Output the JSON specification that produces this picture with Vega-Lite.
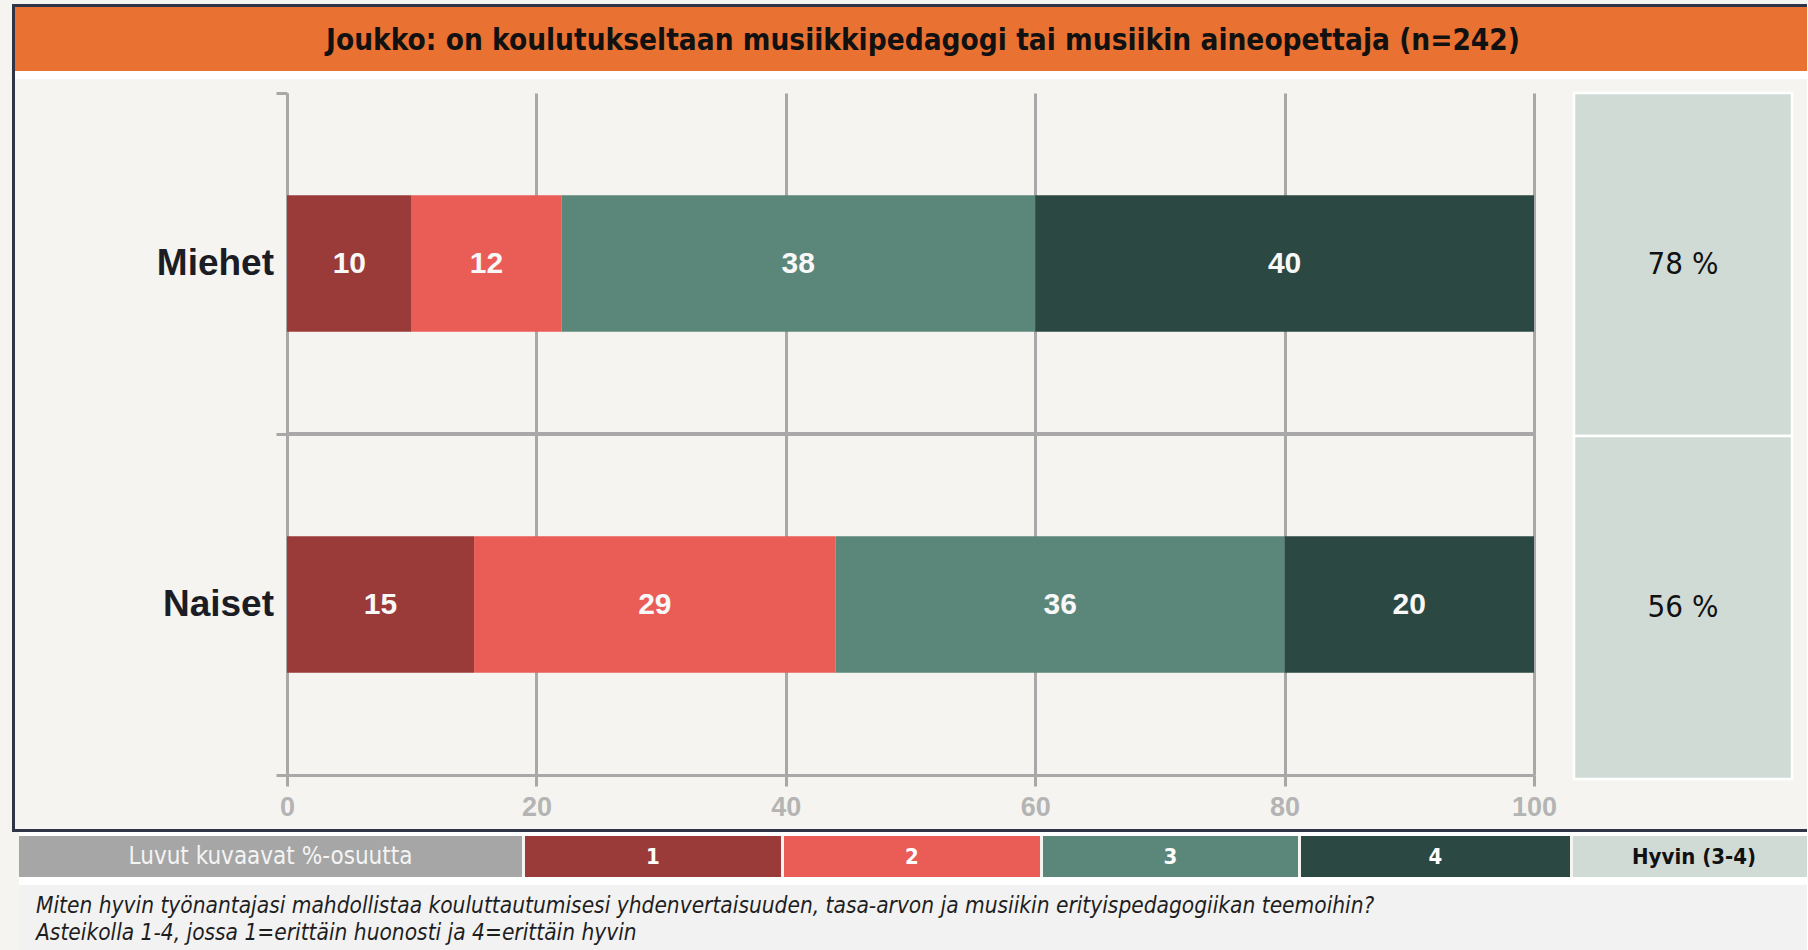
{
  "$schema": "https://vega.github.io/schema/vega-lite/v6.json",
  "background": "#f5f4f0",
  "padding": {"left": 12, "top": 4, "right": 0, "bottom": 0},
  "config": {"view": {"stroke": null}, "concat": {"spacing": 0}},
  "datasets": {
    "bars": [
      {"group": "Miehet", "cat": "1", "value": 10},
      {"group": "Miehet", "cat": "2", "value": 12},
      {"group": "Miehet", "cat": "3", "value": 38},
      {"group": "Miehet", "cat": "4", "value": 40},
      {"group": "Naiset", "cat": "1", "value": 15},
      {"group": "Naiset", "cat": "2", "value": 29},
      {"group": "Naiset", "cat": "3", "value": 36},
      {"group": "Naiset", "cat": "4", "value": 20}
    ],
    "hyvin": [
      {"group": "Miehet", "col": "Hyvin (3-4)", "label": "78 %"},
      {"group": "Naiset", "col": "Hyvin (3-4)", "label": "56 %"}
    ],
    "empty": []
  },
  "spacing": 0,
  "vconcat": [
    {
      "spacing": 0,
      "hconcat": [
        {"width": 3, "height": 828, "view": {"fill": "#2f3447"}, "data": {"name": "empty"}, "mark": "rule", "encoding": {}},
        {
          "spacing": 0,
          "vconcat": [
            {"width": 1792, "height": 3, "view": {"fill": "#2f3447"}, "data": {"name": "empty"}, "mark": "rule", "encoding": {}},
            {
              "width": 1792, "height": 64,
              "view": {"fill": "#e97132"},
              "data": {"values": [{"title": "Joukko: on koulutukseltaan musiikkipedagogi tai musiikin aineopettaja (n=242)"}]},
              "mark": {"type": "text", "font": "DejaVu Sans Condensed", "fontWeight": "bold", "fontSize": 29.5, "color": "#111111", "dx": 12, "dy": 2},
              "encoding": {"text": {"field": "title"}}
            },
            {"width": 1792, "height": 8, "view": {"fill": "#ffffff"}, "data": {"name": "empty"}, "mark": "rule", "encoding": {}},
            {
              "spacing": 0,
              "hconcat": [
                {"width": 141, "height": 750, "view": {"fill": "#f5f4f0"}, "data": {"name": "empty"}, "mark": "rule", "encoding": {}},
                {
                  "spacing": 0,
                  "vconcat": [
                    {"width": 1247, "height": 12, "view": {"fill": "#f5f4f0"}, "data": {"name": "empty"}, "mark": "rule", "encoding": {}},
                    {
                      "width": 1247, "height": 682,
                      "data": {"name": "bars"},
                      "encoding": {
                        "y": {
                          "field": "group", "type": "nominal", "title": null,
                          "scale": {"domain": ["Miehet", "Naiset"], "paddingInner": 0, "paddingOuter": 0},
                          "axis": {
                            "tickBand": "extent", "grid": false, "labels": false,
                            "domainColor": "#a8a8a8", "domainWidth": 3,
                            "tickColor": "#a8a8a8", "tickWidth": 3, "tickSize": 11
                          }
                        }
                      },
                      "layer": [
                        {
                          "mark": {"type": "rule", "color": "#a8a8a8", "strokeWidth": 3},
                          "encoding": {"y": {"datum": "Naiset", "type": "nominal", "bandPosition": 0}}
                        },
                        {
                          "mark": {"type": "bar", "height": {"band": 0.4}},
                          "encoding": {
                            "x": {
                              "field": "value", "type": "quantitative", "stack": "zero", "title": null,
                              "scale": {"domain": [0, 100], "nice": false},
                              "axis": {
                                "values": [0, 20, 40, 60, 80, 100], "grid": true,
                                "gridColor": "#a8a8a8", "gridWidth": 3,
                                "domainColor": "#a8a8a8", "domainWidth": 3,
                                "tickColor": "#a8a8a8", "tickWidth": 3, "tickSize": 11,
                                "labelFont": "Liberation Sans", "labelFontWeight": "bold", "labelFontSize": 27,
                                "labelColor": "#b4b4b4", "labelPadding": 8, "labelFlush": false
                              }
                            },
                            "color": {
                              "field": "cat", "type": "nominal", "legend": null,
                              "scale": {"domain": ["1", "2", "3", "4"], "range": ["#9a3b3a", "#ea5d57", "#5b877b", "#2b4842"]}
                            },
                            "order": {"field": "cat"}
                          }
                        },
                        {
                          "mark": {"type": "text", "color": "#f8f8f8", "font": "Liberation Sans", "fontWeight": "bold", "fontSize": 30},
                          "encoding": {
                            "x": {"field": "value", "type": "quantitative", "stack": "zero", "bandPosition": 0.5},
                            "detail": {"field": "cat"},
                            "order": {"field": "cat"},
                            "text": {"field": "value"}
                          }
                        },
                        {
                          "data": {"name": "hyvin"},
                          "mark": {"type": "text", "align": "right", "dx": -13, "color": "#1c1c24", "font": "Liberation Sans", "fontWeight": "bold", "fontSize": 37},
                          "encoding": {
                            "x": {"datum": 0, "type": "quantitative"},
                            "text": {"field": "group"}
                          }
                        }
                      ]
                    }
                  ]
                },
                {"width": 15, "height": 10, "view": {"fill": "#f5f4f0"}, "data": {"name": "empty"}, "mark": "rule", "encoding": {}},
                {
                  "spacing": 0,
                  "vconcat": [
                    {"width": 218, "height": 12, "view": {"fill": "#f5f4f0"}, "data": {"name": "empty"}, "mark": "rule", "encoding": {}},
                    {
                      "width": 218, "height": 686,
                      "data": {"name": "hyvin"},
                      "encoding": {
                        "y": {"field": "group", "type": "nominal", "axis": null, "scale": {"domain": ["Miehet", "Naiset"], "paddingInner": 0, "paddingOuter": 0}},
                        "x": {"field": "col", "type": "nominal", "axis": null, "scale": {"paddingInner": 0, "paddingOuter": 0}}
                      },
                      "layer": [
                        {"mark": {"type": "rect", "fill": "#d1dbd6", "stroke": "#ffffff", "strokeWidth": 2.5}},
                        {"mark": {"type": "text", "font": "DejaVu Sans Condensed", "fontSize": 31, "color": "#111111"}, "encoding": {"text": {"field": "label"}}}
                      ]
                    }
                  ]
                }
              ]
            },
            {"width": 1792, "height": 3, "view": {"fill": "#2f3447"}, "data": {"name": "empty"}, "mark": "rule", "encoding": {}}
          ]
        }
      ]
    },
    {
      "spacing": 0,
      "hconcat": [
        {"width": 7, "height": 118, "view": {"fill": "#f5f4f0"}, "data": {"name": "empty"}, "mark": "rule", "encoding": {}},
        {
          "spacing": 0,
          "vconcat": [
            {"width": 1788, "height": 4, "view": {"fill": "#ffffff"}, "data": {"name": "empty"}, "mark": "rule", "encoding": {}},
            {
              "spacing": 3,
              "hconcat": [
                {"width": 503, "height": 41, "view": {"fill": "#a6a6a6"}, "data": {"values": [{"t": "Luvut kuvaavat %-osuutta"}]}, "mark": {"type": "text", "font": "DejaVu Sans Condensed", "fontSize": 24, "color": "#f4f4f4"}, "encoding": {"text": {"field": "t"}}},
                {"width": 256, "height": 41, "view": {"fill": "#9a3b3a"}, "data": {"values": [{"t": "1"}]}, "mark": {"type": "text", "font": "DejaVu Sans Condensed", "fontWeight": "bold", "fontSize": 22, "color": "#ffffff"}, "encoding": {"text": {"field": "t"}}},
                {"width": 256, "height": 41, "view": {"fill": "#ea5d57"}, "data": {"values": [{"t": "2"}]}, "mark": {"type": "text", "font": "DejaVu Sans Condensed", "fontWeight": "bold", "fontSize": 22, "color": "#ffffff"}, "encoding": {"text": {"field": "t"}}},
                {"width": 255, "height": 41, "view": {"fill": "#5b877b"}, "data": {"values": [{"t": "3"}]}, "mark": {"type": "text", "font": "DejaVu Sans Condensed", "fontWeight": "bold", "fontSize": 22, "color": "#ffffff"}, "encoding": {"text": {"field": "t"}}},
                {"width": 269, "height": 41, "view": {"fill": "#2b4842"}, "data": {"values": [{"t": "4"}]}, "mark": {"type": "text", "font": "DejaVu Sans Condensed", "fontWeight": "bold", "fontSize": 22, "color": "#ffffff"}, "encoding": {"text": {"field": "t"}}},
                {"width": 234, "height": 41, "view": {"fill": "#d1dbd6"}, "data": {"values": [{"t": "Hyvin (3-4)"}]}, "mark": {"type": "text", "font": "DejaVu Sans Condensed", "fontWeight": "bold", "fontSize": 22, "color": "#111111", "dx": 4}, "encoding": {"text": {"field": "t"}}}
              ]
            },
            {"width": 1788, "height": 8, "view": {"fill": "#ffffff"}, "data": {"name": "empty"}, "mark": "rule", "encoding": {}},
            {
              "width": 1788, "height": 65,
              "view": {"fill": "#f2f2f2"},
              "data": {"values": [
                {"line": 1, "text": "Miten hyvin työnantajasi mahdollistaa kouluttautumisesi yhdenvertaisuuden, tasa-arvon ja musiikin erityispedagogiikan teemoihin?"},
                {"line": 2, "text": "Asteikolla 1-4, jossa 1=erittäin huonosti ja 4=erittäin hyvin"}
              ]},
              "mark": {"type": "text", "align": "left", "font": "DejaVu Sans Condensed", "fontStyle": "italic", "fontSize": 22.5, "color": "#1e1e1e", "dx": 17, "dy": 2},
              "encoding": {
                "x": {"datum": 0, "type": "quantitative", "scale": {"domain": [0, 1]}, "axis": null},
                "y": {"field": "line", "type": "ordinal", "axis": null, "scale": {"padding": 0.7}},
                "text": {"field": "text"}
              }
            }
          ]
        }
      ]
    }
  ]
}
